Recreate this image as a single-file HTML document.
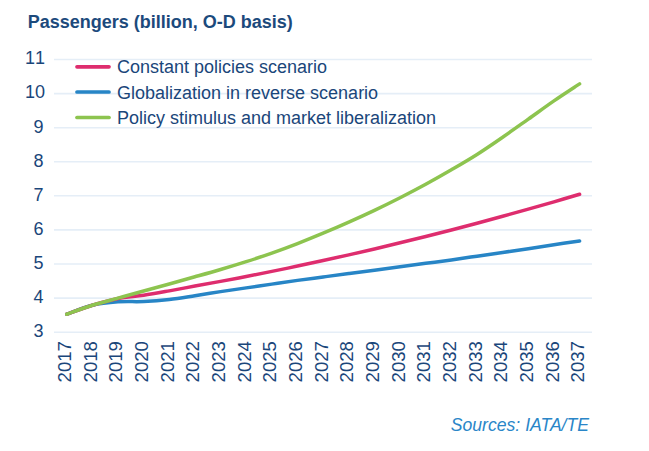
<!DOCTYPE html>
<html><head><meta charset="utf-8"><style>
html,body{margin:0;padding:0;background:#fff;}
svg{display:block}
text{font-family:"Liberation Sans",sans-serif;}
.t{font-size:18px;font-kerning:none;fill:#1a467a;}
</style></head><body>
<svg width="649" height="451" viewBox="0 0 649 451">
<rect width="649" height="451" fill="#fff"/>
<text x="27.7" y="28" font-size="18" font-weight="bold" fill="#1c4a7c">Passengers (billion, O-D basis)</text>
<line x1="54" x2="592" y1="332.2" y2="332.2" stroke="#e5eef7" stroke-width="1.6"/><line x1="54" x2="592" y1="298.1" y2="298.1" stroke="#e5eef7" stroke-width="1.6"/><line x1="54" x2="592" y1="264.0" y2="264.0" stroke="#e5eef7" stroke-width="1.6"/><line x1="54" x2="592" y1="229.9" y2="229.9" stroke="#e5eef7" stroke-width="1.6"/><line x1="54" x2="592" y1="195.8" y2="195.8" stroke="#e5eef7" stroke-width="1.6"/><line x1="54" x2="592" y1="161.7" y2="161.7" stroke="#e5eef7" stroke-width="1.6"/><line x1="54" x2="592" y1="127.7" y2="127.7" stroke="#e5eef7" stroke-width="1.6"/><line x1="54" x2="592" y1="93.6" y2="93.6" stroke="#e5eef7" stroke-width="1.6"/><line x1="54" x2="592" y1="59.5" y2="59.5" stroke="#e5eef7" stroke-width="1.6"/>
<text x="43.6" y="337.2" text-anchor="end" class="t">3</text><text x="43.6" y="303.1" text-anchor="end" class="t">4</text><text x="43.6" y="269.0" text-anchor="end" class="t">5</text><text x="43.6" y="234.9" text-anchor="end" class="t">6</text><text x="43.6" y="200.8" text-anchor="end" class="t">7</text><text x="43.6" y="166.6" text-anchor="end" class="t">8</text><text x="43.6" y="132.5" text-anchor="end" class="t">9</text><text x="45" y="98.4" text-anchor="end" class="t">10</text><text x="45" y="64.3" text-anchor="end" class="t">11</text>
<text transform="translate(71.05,382.4) rotate(-90) scale(1.06,1)" class="t" style="font-size:17.5px">2017</text><text transform="translate(96.70,382.4) rotate(-90) scale(1.06,1)" class="t" style="font-size:17.5px">2018</text><text transform="translate(122.36,382.4) rotate(-90) scale(1.06,1)" class="t" style="font-size:17.5px">2019</text><text transform="translate(148.02,382.4) rotate(-90) scale(1.06,1)" class="t" style="font-size:17.5px">2020</text><text transform="translate(173.67,382.4) rotate(-90) scale(1.06,1)" class="t" style="font-size:17.5px">2021</text><text transform="translate(199.33,382.4) rotate(-90) scale(1.06,1)" class="t" style="font-size:17.5px">2022</text><text transform="translate(224.98,382.4) rotate(-90) scale(1.06,1)" class="t" style="font-size:17.5px">2023</text><text transform="translate(250.64,382.4) rotate(-90) scale(1.06,1)" class="t" style="font-size:17.5px">2024</text><text transform="translate(276.29,382.4) rotate(-90) scale(1.06,1)" class="t" style="font-size:17.5px">2025</text><text transform="translate(301.94,382.4) rotate(-90) scale(1.06,1)" class="t" style="font-size:17.5px">2026</text><text transform="translate(327.60,382.4) rotate(-90) scale(1.06,1)" class="t" style="font-size:17.5px">2027</text><text transform="translate(353.26,382.4) rotate(-90) scale(1.06,1)" class="t" style="font-size:17.5px">2028</text><text transform="translate(378.91,382.4) rotate(-90) scale(1.06,1)" class="t" style="font-size:17.5px">2029</text><text transform="translate(404.56,382.4) rotate(-90) scale(1.06,1)" class="t" style="font-size:17.5px">2030</text><text transform="translate(430.22,382.4) rotate(-90) scale(1.06,1)" class="t" style="font-size:17.5px">2031</text><text transform="translate(455.88,382.4) rotate(-90) scale(1.06,1)" class="t" style="font-size:17.5px">2032</text><text transform="translate(481.53,382.4) rotate(-90) scale(1.06,1)" class="t" style="font-size:17.5px">2033</text><text transform="translate(507.19,382.4) rotate(-90) scale(1.06,1)" class="t" style="font-size:17.5px">2034</text><text transform="translate(532.84,382.4) rotate(-90) scale(1.06,1)" class="t" style="font-size:17.5px">2035</text><text transform="translate(558.50,382.4) rotate(-90) scale(1.06,1)" class="t" style="font-size:17.5px">2036</text><text transform="translate(584.15,382.4) rotate(-90) scale(1.06,1)" class="t" style="font-size:17.5px">2037</text>
<path d="M66.70,314.23 C70.97,312.74 83.80,307.33 92.34,305.27 C100.89,303.21 109.44,302.48 117.99,301.86 C126.54,301.23 135.09,301.92 143.63,301.52 C152.18,301.12 160.73,300.44 169.28,299.47 C177.83,298.51 186.38,297.03 194.93,295.72 C203.47,294.42 212.02,292.94 220.57,291.63 C229.12,290.33 237.67,289.13 246.21,287.88 C254.76,286.63 263.31,285.38 271.86,284.13 C280.41,282.88 288.96,281.58 297.50,280.38 C306.05,279.19 314.60,278.11 323.15,276.97 C331.70,275.84 340.25,274.70 348.79,273.57 C357.34,272.43 365.89,271.29 374.44,270.16 C382.99,269.02 391.54,267.88 400.08,266.75 C408.63,265.61 417.18,264.47 425.73,263.34 C434.28,262.20 442.83,261.12 451.38,259.93 C459.92,258.74 468.47,257.43 477.02,256.18 C485.57,254.93 494.12,253.68 502.66,252.43 C511.21,251.18 519.76,249.96 528.31,248.68 C536.86,247.40 545.41,246.04 553.96,244.76 C562.50,243.48 575.33,241.63 579.60,241.01" fill="none" stroke="#2785c6" stroke-width="3.5" stroke-linecap="round" stroke-linejoin="round"/>
<path d="M66.70,314.23 C70.97,312.74 83.80,307.90 92.34,305.27 C100.89,302.64 109.44,300.13 117.99,298.45 C126.54,296.77 135.09,296.48 143.63,295.21 C152.18,293.95 160.73,292.37 169.28,290.85 C177.83,289.33 186.38,287.66 194.93,286.08 C203.47,284.50 212.02,282.97 220.57,281.37 C229.12,279.78 237.67,278.16 246.21,276.50 C254.76,274.83 263.31,273.12 271.86,271.38 C280.41,269.64 288.96,267.87 297.50,266.07 C306.05,264.26 314.60,262.41 323.15,260.54 C331.70,258.67 340.25,256.79 348.79,254.85 C357.34,252.91 365.89,250.92 374.44,248.92 C382.99,246.91 391.54,244.89 400.08,242.82 C408.63,240.74 417.18,238.62 425.73,236.48 C434.28,234.33 442.83,232.17 451.38,229.96 C459.92,227.75 468.47,225.49 477.02,223.21 C485.57,220.94 494.12,218.64 502.66,216.29 C511.21,213.95 519.76,211.55 528.31,209.14 C536.86,206.72 545.41,204.29 553.96,201.81 C562.50,199.32 575.33,195.50 579.60,194.24" fill="none" stroke="#de2d6e" stroke-width="3.5" stroke-linecap="round" stroke-linejoin="round"/>
<path d="M66.70,314.23 C70.97,312.74 83.80,307.96 92.34,305.27 C100.89,302.58 109.44,300.50 117.99,298.11 C126.54,295.72 135.09,293.31 143.63,290.95 C152.18,288.59 160.73,286.32 169.28,283.96 C177.83,281.60 186.38,279.22 194.93,276.80 C203.47,274.39 212.02,272.00 220.57,269.47 C229.12,266.95 237.67,264.36 246.21,261.63 C254.76,258.91 263.31,256.12 271.86,253.11 C280.41,250.10 288.96,246.89 297.50,243.57 C306.05,240.24 314.60,236.75 323.15,233.17 C331.70,229.59 340.25,225.90 348.79,222.09 C357.34,218.28 365.89,214.39 374.44,210.33 C382.99,206.27 391.54,202.06 400.08,197.71 C408.63,193.37 417.18,188.91 425.73,184.25 C434.28,179.59 442.83,174.73 451.38,169.76 C459.92,164.79 468.47,159.85 477.02,154.42 C485.57,148.99 494.12,143.09 502.66,137.21 C511.21,131.32 519.76,125.19 528.31,119.14 C536.86,113.09 545.41,106.78 553.96,100.90 C562.50,95.02 575.33,86.70 579.60,83.85" fill="none" stroke="#8dc44f" stroke-width="3.5" stroke-linecap="round" stroke-linejoin="round"/>
<g stroke-width="3.7" stroke-linecap="round">
<line x1="77" x2="109" y1="66.8" y2="66.8" stroke="#de2d6e"/>
<line x1="77" x2="109" y1="92" y2="92" stroke="#2785c6"/>
<line x1="77" x2="109" y1="117.5" y2="117.5" stroke="#8dc44f"/>
</g>
<text x="117" y="73" class="t">Constant policies scenario</text>
<text x="117" y="98.5" class="t">Globalization in reverse scenario</text>
<text x="117" y="124" class="t">Policy stimulus and market liberalization</text>
<text x="589" y="431.4" text-anchor="end" font-size="17.6" font-style="italic" fill="#2a86c8">Sources: IATA/TE</text>
</svg>
</body></html>
